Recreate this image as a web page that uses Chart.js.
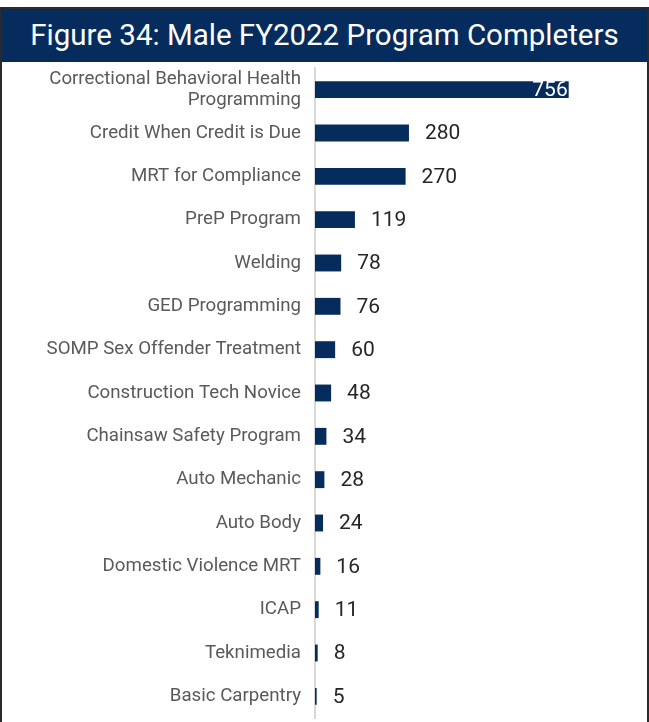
<!DOCTYPE html>
<html>
<head>
<meta charset="utf-8">
<script src="https://cdn.jsdelivr.net/npm/chart.js@4.4.1/dist/chart.umd.min.js"></script>
<style>
  html, body { margin: 0; padding: 0; background: #ffffff; }
  body { width: 649px; height: 722px; overflow: hidden; position: relative; font-family: Roboto, "Noto Sans", sans-serif; }
  .frame {
    position: absolute; left: 0; top: 7px; width: 645px; height: 730px;
    border: 2px solid #2a2a2a; border-bottom: none; background: #fff;
  }
  .title {
    height: 53px; background: #062c5e; color: #ffffff;
    font-size: 29.5px; line-height: 53px; text-align: center; letter-spacing: 0;
  }
  .plot { position: relative; width: 645px; height: 661px; }
</style>
</head>
<body>
<div class="frame">
  <div class="title">Figure 34: Male FY2022 Program Completers</div>
  <div class="plot"><canvas id="c" width="645" height="661"></canvas></div>
</div>
<script>
// Programs completed by male participants, FY2022
const programs = [
  ["Correctional Behavioral Health", "Programming"],
  "Credit When Credit is Due",
  "MRT for Compliance",
  "PreP Program",
  "Welding",
  "GED Programming",
  "SOMP Sex Offender Treatment",
  "Construction Tech Novice",
  "Chainsaw Safety Program",
  "Auto Mechanic",
  "Auto Body",
  "Domestic Violence MRT",
  "ICAP",
  "Teknimedia",
  "Basic Carpentry"
];
const completers = [756, 280, 270, 119, 78, 76, 60, 48, 34, 28, 24, 16, 11, 8, 5];

const navy = "#062c5e";

// Writes each bar's count beside it; the longest bar carries its count inside, in white
const valueLabels = {
  id: "valueLabels",
  afterDatasetsDraw(chart) {
    const ctx = chart.ctx;
    const meta = chart.getDatasetMeta(0);
    const maxVal = Math.max(...completers);
    ctx.save();
    ctx.font = "21px Roboto, 'Noto Sans', sans-serif";
    ctx.textBaseline = "middle";
    meta.data.forEach((bar, i) => {
      const v = completers[i];
      if (v === maxVal) {
        ctx.fillStyle = "#ffffff";
        ctx.textAlign = "right";
        ctx.fillText(String(v), bar.x - 1, bar.y + 1);
      } else {
        ctx.fillStyle = "#262626";
        ctx.textAlign = "left";
        ctx.fillText(String(v), bar.x + 16, bar.y + 1);
      }
    });
    ctx.restore();
  }
};

new Chart(document.getElementById("c"), {
  type: "bar",
  data: {
    labels: programs,
    datasets: [{
      data: completers,
      backgroundColor: navy,
      borderWidth: 0,
      barPercentage: 0.39,
      categoryPercentage: 1.0
    }]
  },
  options: {
    indexAxis: "y",
    responsive: false,
    animation: false,
    devicePixelRatio: 1,
    layout: { padding: { top: 6, bottom: 5, left: 0, right: 30 } },
    plugins: { legend: { display: false }, tooltip: { enabled: false } },
    scales: {
      x: {
        display: false,
        min: 0,
        max: 900
      },
      y: {
        afterFit(scale) {
          scale.width = 313;
          scale.paddingTop = 0;
          scale.paddingBottom = 0;
        },
        grid: { display: false, drawTicks: false },
        border: { display: true, color: "#d9d9d9", width: 2 },
        ticks: {
          autoSkip: false,
          color: "#5a5a5a",
          padding: 14,
          font: { family: "Roboto, 'Noto Sans', sans-serif", size: 18.7, lineHeight: 1.15 }
        }
      }
    }
  },
  plugins: [valueLabels]
});
</script>
</body>
</html>
